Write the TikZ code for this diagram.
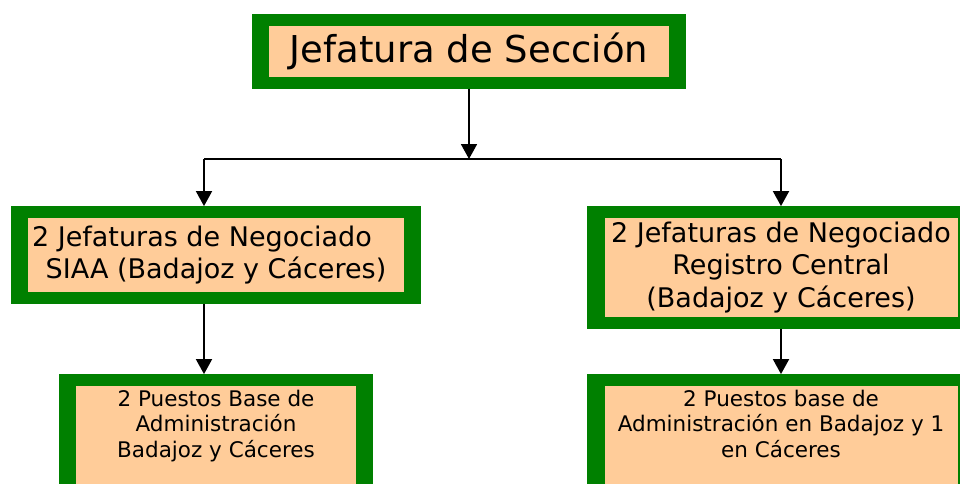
\documentclass[tikz,border=0pt]{standalone}
\usepackage{fontspec}
\setmainfont{DejaVu Sans}
\usetikzlibrary{arrows.meta, fit, backgrounds}
\usepackage{xcolor}
\definecolor{framegreen}{HTML}{008000}
\definecolor{boxpeach}{HTML}{FFCC99}

\begin{document}
\begin{tikzpicture}[x=1pt, y=-1pt,
	peach/.style={fill=boxpeach, inner sep=0pt, align=center},
	frame/.style={fill=framegreen, inner xsep=17pt, inner ysep=11.5pt},
	arr/.style={line width=1.8pt, -{Triangle[width=16pt, length=15pt]}},
	link/.style={line width=1.8pt}]
	\clip (0,0) rectangle (960,484);
	% boxes
	\node [peach, minimum width=400pt, minimum height=51pt, font=\fontsize{37}{42}\selectfont] (top) at (469,51.5) {Jefatura de Secci\'on};
	\node [peach, minimum width=376pt, minimum height=74pt, font=\fontsize{27}{32.5}\selectfont] (siaa) at (216,255) {2 Jefaturas de Negociado\hspace*{28pt}\\SIAA (Badajoz y C\'aceres)};
	\node [peach, minimum width=353pt, minimum height=99pt, font=\fontsize{27}{32.5}\selectfont] (reg) at (781,267.5) {2 Jefaturas de Negociado\\Registro Central\\(Badajoz y C\'aceres)};
	\node [peach, minimum width=280pt, minimum height=114pt] (pbl) at (216,443) {};
	\node [peach, minimum width=353pt, minimum height=114pt] (pbr) at (781,443) {};
	\node [align=center, anchor=north, inner sep=0pt, font=\fontsize{21.5}{25.5}\selectfont] (pbltext) at ([yshift=-4pt]pbl.north) {2 Puestos Base de\\Administraci\'on\\Badajoz y C\'aceres};
	\node [align=center, anchor=north, inner sep=0pt, font=\fontsize{21.5}{25.5}\selectfont] (pbrtext) at ([yshift=-4pt]pbr.north) {2 Puestos base de\\Administraci\'on en Badajoz y 1\\en C\'aceres};
	% green frames
	\begin{scope}[on background layer]
		\node [frame, fit=(top)] (topF) {};
		\node [frame, fit=(siaa)] (siaaF) {};
		\node [frame, fit=(reg)] (regF) {};
		\node [frame, fit=(pbl)] (pblF) {};
		\node [frame, fit=(pbr)] (pbrF) {};
	\end{scope}
	% connectors
	\coordinate (jl) at (204,159);
	\coordinate (jr) at (regF.north |- jl);
	\draw [arr] (topF.south) -- (topF.south |- jl);
	\draw [link] (jl) -- (jr);
	\draw [arr] (jl) -- (jl |- siaaF.north);
	\draw [arr] (jr) -- (regF.north);
	\draw [arr] (siaaF.south -| jl) -- (pblF.north -| jl);
	\draw [arr] (regF.south) -- (pbrF.north);
\end{tikzpicture}
\end{document}
